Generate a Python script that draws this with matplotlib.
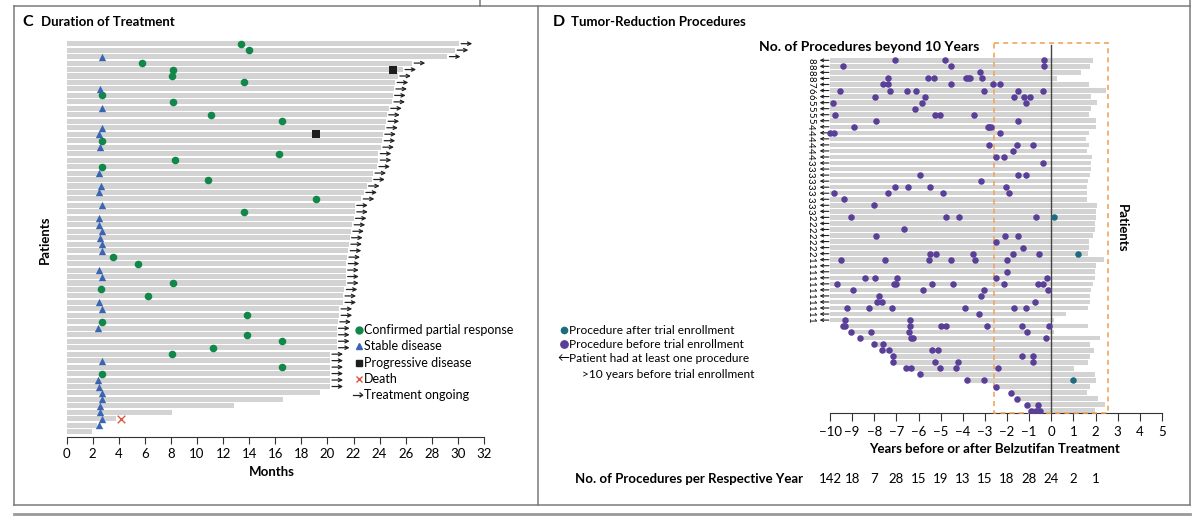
import numpy as np
import matplotlib.pyplot as plt
from matplotlib.lines import Line2D
from matplotlib.patches import Rectangle
import matplotlib.transforms as mtransforms

plt.rcParams['font.family'] = ['Lato', 'DejaVu Sans']

W, H = 1200, 518

#----------------------
# Panel C data: one row per patient, top to bottom
#----------------------
duration_months = [30.1, 29.8, 29.2, 26.5, 25.8, 25.4, 25.2, 25.1, 25.0, 24.95,
                   24.7, 24.55, 24.5, 24.4, 24.25, 24.2, 24.1, 23.9, 23.9, 23.8,
                   23.5, 23.4, 23.0, 22.8, 22.6, 22.1, 22.1, 22.0, 21.9, 21.8,
                   21.7, 21.65, 21.6, 21.5, 21.45, 21.4, 21.4, 21.4, 21.3, 21.2,
                   21.2, 20.9, 20.9, 20.8, 20.7, 20.7, 20.7, 20.7, 20.2, 20.2,
                   20.2, 20.2, 20.2, 20.2, 19.4, 16.6, 12.8, 8.1, 3.8, 2.3, 1.95]
n_ongoing = 54  # first 54 patients still on treatment

pr_rows = [0, 1, 3, 4, 5, 6, 8, 9, 11, 12, 15, 17, 18, 19, 21, 24, 26, 33, 34,
           37, 38, 39, 42, 43, 45, 46, 47, 48, 50, 51]
pr_months = [13.4, 14.0, 5.75, 8.2, 8.1, 13.6, 2.75, 8.2, 11.1, 16.5, 2.75, 16.3,
             8.3, 2.75, 10.85, 19.1, 13.6, 3.6, 5.5, 8.2, 2.65, 6.25, 13.8, 2.7,
             13.8, 16.5, 11.25, 8.1, 16.5, 2.75]
sd_rows = [2, 7, 10, 13, 14, 16, 20, 22, 23, 25, 27, 28, 29, 30, 31, 32, 35, 36,
           40, 41, 44, 49, 52, 53, 54, 55, 56, 57, 58, 59]
sd_months = [2.7, 2.6, 2.7, 2.7, 2.5, 2.6, 2.5, 2.65, 2.5, 2.75, 2.5, 2.5, 2.7,
             2.6, 2.7, 2.7, 2.5, 2.7, 2.5, 2.75, 2.45, 2.75, 2.45, 2.5, 2.7, 2.75,
             2.6, 2.6, 2.75, 2.5]
pd_rows = [4, 14]
pd_months = [25.0, 19.1]
death_rows = [58]
death_months = [4.2]

#----------------------
# Panel D data: years relative to belzutifan start
#----------------------
bar_end_years = [1.87, 1.75, 1.34, 0.27, 1.69, 2.47, 1.78, 2.05, 1.79, 1.69,
                 2.0, 2.0, 1.72, 1.55, 1.72, 1.63, 1.84, 1.79, 1.79, 1.73,
                 1.64, 1.63, 1.63, 1.63, 2.06, 2.03, 2.0, 1.97, 1.96, 1.90,
                 1.72, 1.72, 1.66, 2.38, 2.03, 1.97, 1.96, 1.88, 1.79, 1.75,
                 1.75, 1.67, 0.65, 0.12, 1.66, 0.12, 2.18, 1.73, 1.93, 1.76,
                 1.67, 1.04, 1.97, 2.0, 1.73, 1.63, 2.12, 2.41, 1.97]
beyond_10y = [8, 8, 8, 8, 7, 6, 6, 5, 5, 5, 5, 4, 4, 4, 4, 4, 4, 3, 3, 3, 3, 3,
              3, 3, 3, 3, 2, 2, 2, 2, 2, 2, 2, 1, 1, 1, 1, 1, 1, 1, 1, 1, 1, 1]
before_years = [
    [-7.06, -4.80, -0.35], [-9.43, -4.53, -0.32], [-3.21],
    [-7.36, -5.59, -5.30, -3.87, -3.78, -3.67, -3.15],
    [-7.59, -7.36, -4.53, -2.65, -2.33],
    [-9.55, -7.29, -6.51, -6.11, -3.02, -1.49, -0.37],
    [-7.95, -5.72, -1.67, -1.22, -0.95], [-9.88, -5.86, -1.13], [-6.14],
    [-9.79, -5.24, -5.05, -3.48], [-7.92, -1.52], [-8.93, -2.88, -2.80, -2.73],
    [-10.0, -9.80, -2.33], [], [-2.80, -1.54, -0.83], [-1.72], [-2.48, -2.12],
    [-0.39], [], [-5.93, -1.52, -1.14], [-3.16], [-7.06, -6.46, -5.47, -2.03],
    [-9.82, -7.39, -4.89, -1.91], [-9.37], [-8.03], [],
    [-9.07, -4.77, -4.16, -0.68], [], [-6.64], [-7.92, -2.09, -1.52], [-2.52],
    [-1.27], [-5.50, -5.23, -3.55, -1.75, -0.57],
    [-9.50, -7.53, -5.53, -4.52, -3.45, -1.99], [], [-1.99],
    [-8.43, -7.98, -6.97, -2.48, -0.20],
    [-9.70, -7.09, -7.03, -5.39, -4.44, -2.14, -0.62, -0.39],
    [-8.96, -5.78, -3.04, -0.15], [-7.80, -3.16], [-7.88, -7.65, -0.74],
    [-9.23, -8.22, -7.21, -3.92, -1.69, -1.16], [-3.27], [-9.32, -6.39],
    [-9.40, -9.32, -6.39, -5.0, -4.76, -2.92, -1.33, -0.09],
    [-9.04, -8.15, -6.45, -1.12], [-8.66, -6.34, -6.23, -0.26], [-8.0, -7.61],
    [-7.67, -7.33, -5.41, -5.11], [-7.14, -1.33, -0.84],
    [-7.14, -5.24, -4.22, -0.84], [-6.55, -6.36, -5.03, -4.32, -2.42], [-5.93],
    [-3.83, -3.06], [-2.48], [-1.82], [-1.54], [-1.12, -0.62],
    [-0.93, -0.69, -0.60, -0.51]]
after_rows = [26, 32, 53]
after_years = [0.11, 1.20, 0.96]

count_years = list(range(-10, 3))
count_values = [142, 18, 7, 28, 15, 19, 13, 15, 18, 28, 24, 2, 1]

GRAY = '#d3d3d3'
GREEN = '#11874a'
BLUE = '#3a65b3'
PURPLE = '#5a3f98'
TEAL = '#1e6b7e'
ORANGE = '#f2a65a'
FRAME = '#7a7a7a'


def fx(x):
    return x / W


def fy(y):
    return 1 - y / H


def add_axes_px(left, top, right, bottom):
    return fig.add_axes([fx(left), fy(bottom), (right - left) / W, (bottom - top) / H])


fig = plt.figure(figsize=(12, 5.18), dpi=100)

# frames
frame_lines = [((14, 1190), (6, 6)), ((14, 1190), (505, 505)), ((14, 14), (6, 505)),
               ((538, 538), (6, 505)), ((1190, 1190), (0, 505)), ((480, 480), (0, 6))]
for xs, ys in frame_lines:
    fig.add_artist(Line2D([fx(xs[0]), fx(xs[1])], [fy(ys[0]), fy(ys[1])],
                          color=FRAME, lw=1.1, transform=fig.transFigure))
fig.add_artist(Line2D([fx(14), fx(1190)], [fy(514), fy(514)], color='#999999',
                      lw=2.0, transform=fig.transFigure))

#----------------------
# Panel C
#----------------------
ax_c = add_axes_px(66.5, 38.5, 484, 436.7)
rows_c = np.arange(len(duration_months))
ax_c.barh(rows_c, duration_months, height=0.78, color=GRAY, zorder=1)
for r in range(n_ongoing):
    end = duration_months[r]
    ax_c.annotate('', xy=(end + 1.0, r), xytext=(end + 0.15, r),
                  arrowprops=dict(arrowstyle='->', lw=0.9, color='#222222',
                                  shrinkA=0, shrinkB=0, mutation_scale=6),
                  annotation_clip=False)
ax_c.scatter(pr_months, pr_rows, s=30, color=GREEN, zorder=3, linewidths=0)
ax_c.scatter(sd_months, sd_rows, s=28, marker='^', color=BLUE, zorder=3, linewidths=0)
ax_c.scatter(pd_months, pd_rows, s=36, marker='s', color='#1e1e1e', zorder=3, linewidths=0)
ax_c.scatter(death_months, death_rows, s=30, marker='x', color='#e0553f', zorder=3,
             linewidths=1.0)
ax_c.set_xlim(0, 32)
ax_c.set_ylim(60.76, -0.8)
ax_c.set_xticks(range(0, 33, 2))
ax_c.set_yticks([])
for s in ['top', 'right', 'left']:
    ax_c.spines[s].set_visible(False)
ax_c.spines['bottom'].set_color('#333333')
ax_c.tick_params(axis='x', length=5, color='#333333', labelsize=9.5, pad=3)

fig.text(fx(22), fy(22), 'C', fontsize=11.5, fontweight='bold', va='center')
fig.text(fx(41), fy(22), 'Duration of Treatment', fontsize=9.5, fontweight='bold', va='center')
fig.text(fx(45), fy(240), 'Patients', fontsize=9.5, fontweight='bold', rotation=90,
         ha='center', va='center')
fig.text(fx(272), fy(472), 'Months', fontsize=9.5, fontweight='bold', ha='center', va='center')

# legend C
leg_c = [('o', GREEN, 'Confirmed partial response'), ('^', BLUE, 'Stable disease'),
         ('s', '#1e1e1e', 'Progressive disease'), ('x', '#e0553f', 'Death')]
for i, (m, c, lab) in enumerate(leg_c):
    y = 330 + i * 16.3
    fig.add_artist(Line2D([fx(359)], [fy(y)], marker=m, color=c, ms=5 if m != 's' else 4.6,
                          mew=1.0, ls='none', transform=fig.transFigure))
    fig.text(fx(364), fy(y), lab, fontsize=9, va='center')
fig.add_artist(Line2D([fx(353), fx(362)], [fy(395), fy(395)], color='#222222', lw=0.9,
                      transform=fig.transFigure))
fig.add_artist(Line2D([fx(360), fx(362.5), fx(360)], [fy(393), fy(395), fy(397)],
                      color='#222222', lw=0.9, transform=fig.transFigure))
fig.text(fx(364), fy(395), 'Treatment ongoing', fontsize=9, va='center')

#----------------------
# Panel D
#----------------------
ax_d = add_axes_px(800, 41, 1172, 413.3)
n_d = len(bar_end_years)
n_beyond = len(beyond_10y)
for r in range(n_d):
    start = -10 if r < n_beyond else min(before_years[r])
    ax_d.barh(r, bar_end_years[r] - start, left=start, height=0.75, color=GRAY, zorder=1)
    ax_d.scatter(before_years[r], [r] * len(before_years[r]), s=22, color=PURPLE,
                 zorder=4, linewidths=0)
ax_d.scatter(after_years, after_rows, s=22, color=TEAL, zorder=4, linewidths=0)
for r in range(n_beyond):
    ax_d.annotate('', xy=(-10.47, r), xytext=(-10.05, r),
                  arrowprops=dict(arrowstyle='->', lw=0.8, color='#222222',
                                  shrinkA=0, shrinkB=0, mutation_scale=5),
                  annotation_clip=False)
    ax_d.text(-10.88, r, str(beyond_10y[r]), fontsize=6.8, rotation=270,
              ha='center', va='center')
ax_d.add_patch(Rectangle((-2.6, -2.8), 5.15, 58.43 + 2.8, fill=False, ec=ORANGE,
                         lw=1.2, ls=(0, (3, 2.5)), zorder=3, clip_on=False))
ax_d.plot([0, 0], [-2.5, 58.43], color='#444444', lw=1.0, zorder=2)
ax_d.set_xlim(-11.356, 5.454)
ax_d.set_ylim(58.43, -3.2)
ax_d.set_xticks(range(-10, 6))
ax_d.set_xticklabels([str(v).replace('-', '\u2212') for v in range(-10, 6)])
ax_d.set_yticks([])
for s in ['top', 'right', 'left']:
    ax_d.spines[s].set_visible(False)
ax_d.spines['bottom'].set_bounds(-10, 5)
ax_d.spines['bottom'].set_color('#333333')
ax_d.tick_params(axis='x', length=6, color='#333333', labelsize=9.5, pad=3)

trans = mtransforms.blended_transform_factory(ax_d.transData, fig.transFigure)
for yr, val in zip(count_years, count_values):
    ax_d.text(yr, fy(479), str(val), fontsize=9.5, ha='center', va='center',
              transform=trans)

fig.text(fx(553), fy(22), 'D', fontsize=11.5, fontweight='bold', va='center')
fig.text(fx(571), fy(22), 'Tumor-Reduction Procedures', fontsize=9.5, fontweight='bold',
         va='center')
fig.text(fx(869), fy(47), 'No. of Procedures beyond 10 Years', fontsize=10,
         fontweight='bold', ha='center', va='center')
fig.text(fx(995), fy(449), 'Years before or after Belzutifan Treatment', fontsize=9.5,
         fontweight='bold', ha='center', va='center')
fig.text(fx(575), fy(479), 'No. of Procedures per Respective Year', fontsize=9.5,
         fontweight='bold', va='center')
fig.text(fx(1122), fy(228), 'Patients', fontsize=9.5, fontweight='bold', rotation=270,
         ha='center', va='center')

# legend D
fig.add_artist(Line2D([fx(564)], [fy(330)], marker='o', color=TEAL, ms=4.5, ls='none',
                      transform=fig.transFigure))
fig.text(fx(569), fy(330), 'Procedure after trial enrollment', fontsize=8.6, va='center')
fig.add_artist(Line2D([fx(564)], [fy(344)], marker='o', color=PURPLE, ms=5.3, ls='none',
                      transform=fig.transFigure))
fig.text(fx(569), fy(344), 'Procedure before trial enrollment', fontsize=8.6, va='center')
fig.text(fx(563), fy(358), '\u2190', fontsize=8.6, va='center', ha='center')
fig.text(fx(569), fy(358), 'Patient had at least one procedure', fontsize=8.6, va='center')
fig.text(fx(582), fy(374), '>10 years before trial enrollment', fontsize=8.6, va='center')

fig.savefig('out.png', dpi=100)
